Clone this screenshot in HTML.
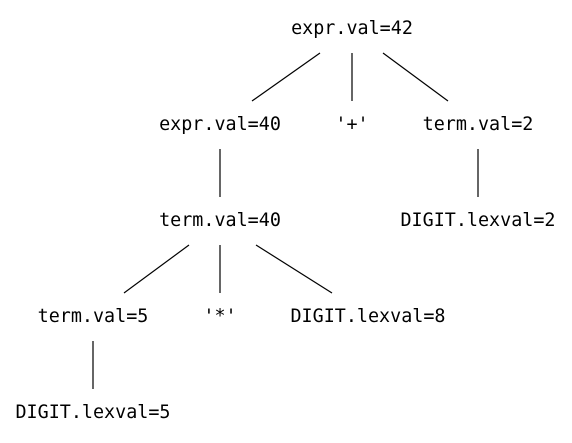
<!DOCTYPE html>
<html><head><style>
html,body{margin:0;padding:0;background:#fff;}
svg{display:block;}
text{font-family:"DejaVu Sans Mono","Liberation Mono",monospace;font-size:18.4px;fill:#000;}
</style></head><body>
<svg width="572" height="443" viewBox="0 0 572 443" xmlns="http://www.w3.org/2000/svg">
<g stroke="#000" stroke-width="1.2">
<line x1="320" y1="53" x2="252" y2="101"/>
<line x1="352" y1="53" x2="352" y2="101"/>
<line x1="383" y1="53" x2="448" y2="101"/>
<line x1="220" y1="149" x2="220" y2="197"/>
<line x1="478" y1="149" x2="478" y2="197"/>
<line x1="189" y1="245" x2="124" y2="293"/>
<line x1="220" y1="245" x2="220" y2="293"/>
<line x1="256" y1="245" x2="332" y2="293"/>
<line x1="93" y1="341" x2="93" y2="389"/>
</g>
<g text-anchor="middle">
<text x="352" y="34">expr.val=42</text>
<text x="220" y="130">expr.val=40</text>
<text x="352" y="130">'+'</text>
<text x="478" y="130">term.val=2</text>
<text x="220" y="226">term.val=40</text>
<text x="478" y="226">DIGIT.lexval=2</text>
<text x="93" y="322">term.val=5</text>
<text x="220" y="322">'*'</text>
<text x="368" y="322">DIGIT.lexval=8</text>
<text x="93" y="418">DIGIT.lexval=5</text>
</g>
</svg>
</body></html>
